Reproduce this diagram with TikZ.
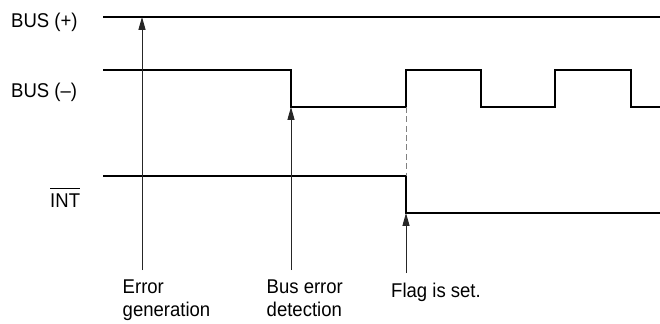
\documentclass[tikz,border=0pt]{standalone}
\usepackage{fontspec}
\setmainfont[FakeStretch=0.93]{Liberation Sans}
\usetikzlibrary{arrows.meta}

% bar over a signal name (active low)
\newcommand{\lowactive}[1]{\setbox0\hbox{#1}\rlap{\raisebox{\dimexpr\ht0+3.5pt\relax}{\rule{\wd0}{0.7pt}}}\box0}

\begin{document}
\begin{tikzpicture}[
        x=0.03cm, y=-0.03cm,
        sig_line/.style={draw, line width=1.1pt, black},
        event_arrow/.style={draw, line width=0.8pt, black!85, -{Triangle[length=11pt, width=6pt]}},
        guide_line/.style={draw, line width=0.8pt, gray, dash pattern=on 5pt off 3pt},
        sig_name/.style={font=\fontsize{17}{19.6}\selectfont, inner sep=0pt, anchor=base west},
        event_note/.style={font=\fontsize{17}{19.6}\selectfont, inner sep=0pt, align=left, anchor=north west}
    ]
        \useasboundingbox (0,0) rectangle (660,323);

        % Signal names
        \node[sig_name] (busp) at (11,27) {BUS (+)};
        \node[sig_name] (busm) at (11,97) {BUS (--)};
        \node[sig_name] (int) at (50,207) {\lowactive{INT}};

        % Event times
        \coordinate (errgen) at (142,270);
        \coordinate (errdet) at (291,270);
        \coordinate (flagset) at (406,273);

        % BUS (+)
        \draw[sig_line] (103,17) coordinate (bpa) -- (660,17) coordinate (bpb);

        % BUS (-): drops at detection, then toggles
        \draw[sig_line] (103,70) -- (291,70) coordinate (drop) -- (291,107) coordinate (dlow)
            -- (406,107) coordinate (rise) -- (406,70) -- (481,70) -- (481,107) -- (555,107)
            -- (555,70) -- (631,70) -- (631,107) -- (660,107);

        % INT
        \draw[sig_line] (103,176) -- (406,176) coordinate (inthi) -- (406,213) coordinate (intlo) -- (660,213);
        \draw[guide_line] (rise) -- (inthi);

        % Event arrows
        \draw[event_arrow] (errgen) -- (errgen |- bpa);
        \draw[event_arrow] (errdet) -- (dlow);
        \draw[event_arrow] (flagset) -- (intlo);

        % Event labels
        \node[event_note] (egnote) at (122.5,280) {Error\\generation};
        \node[event_note] (ednote) at (266.5,280) {Bus error\\detection};
        \node[event_note] (fsnote) at (391,283) {Flag is set.};

    \end{tikzpicture}
\end{document}
